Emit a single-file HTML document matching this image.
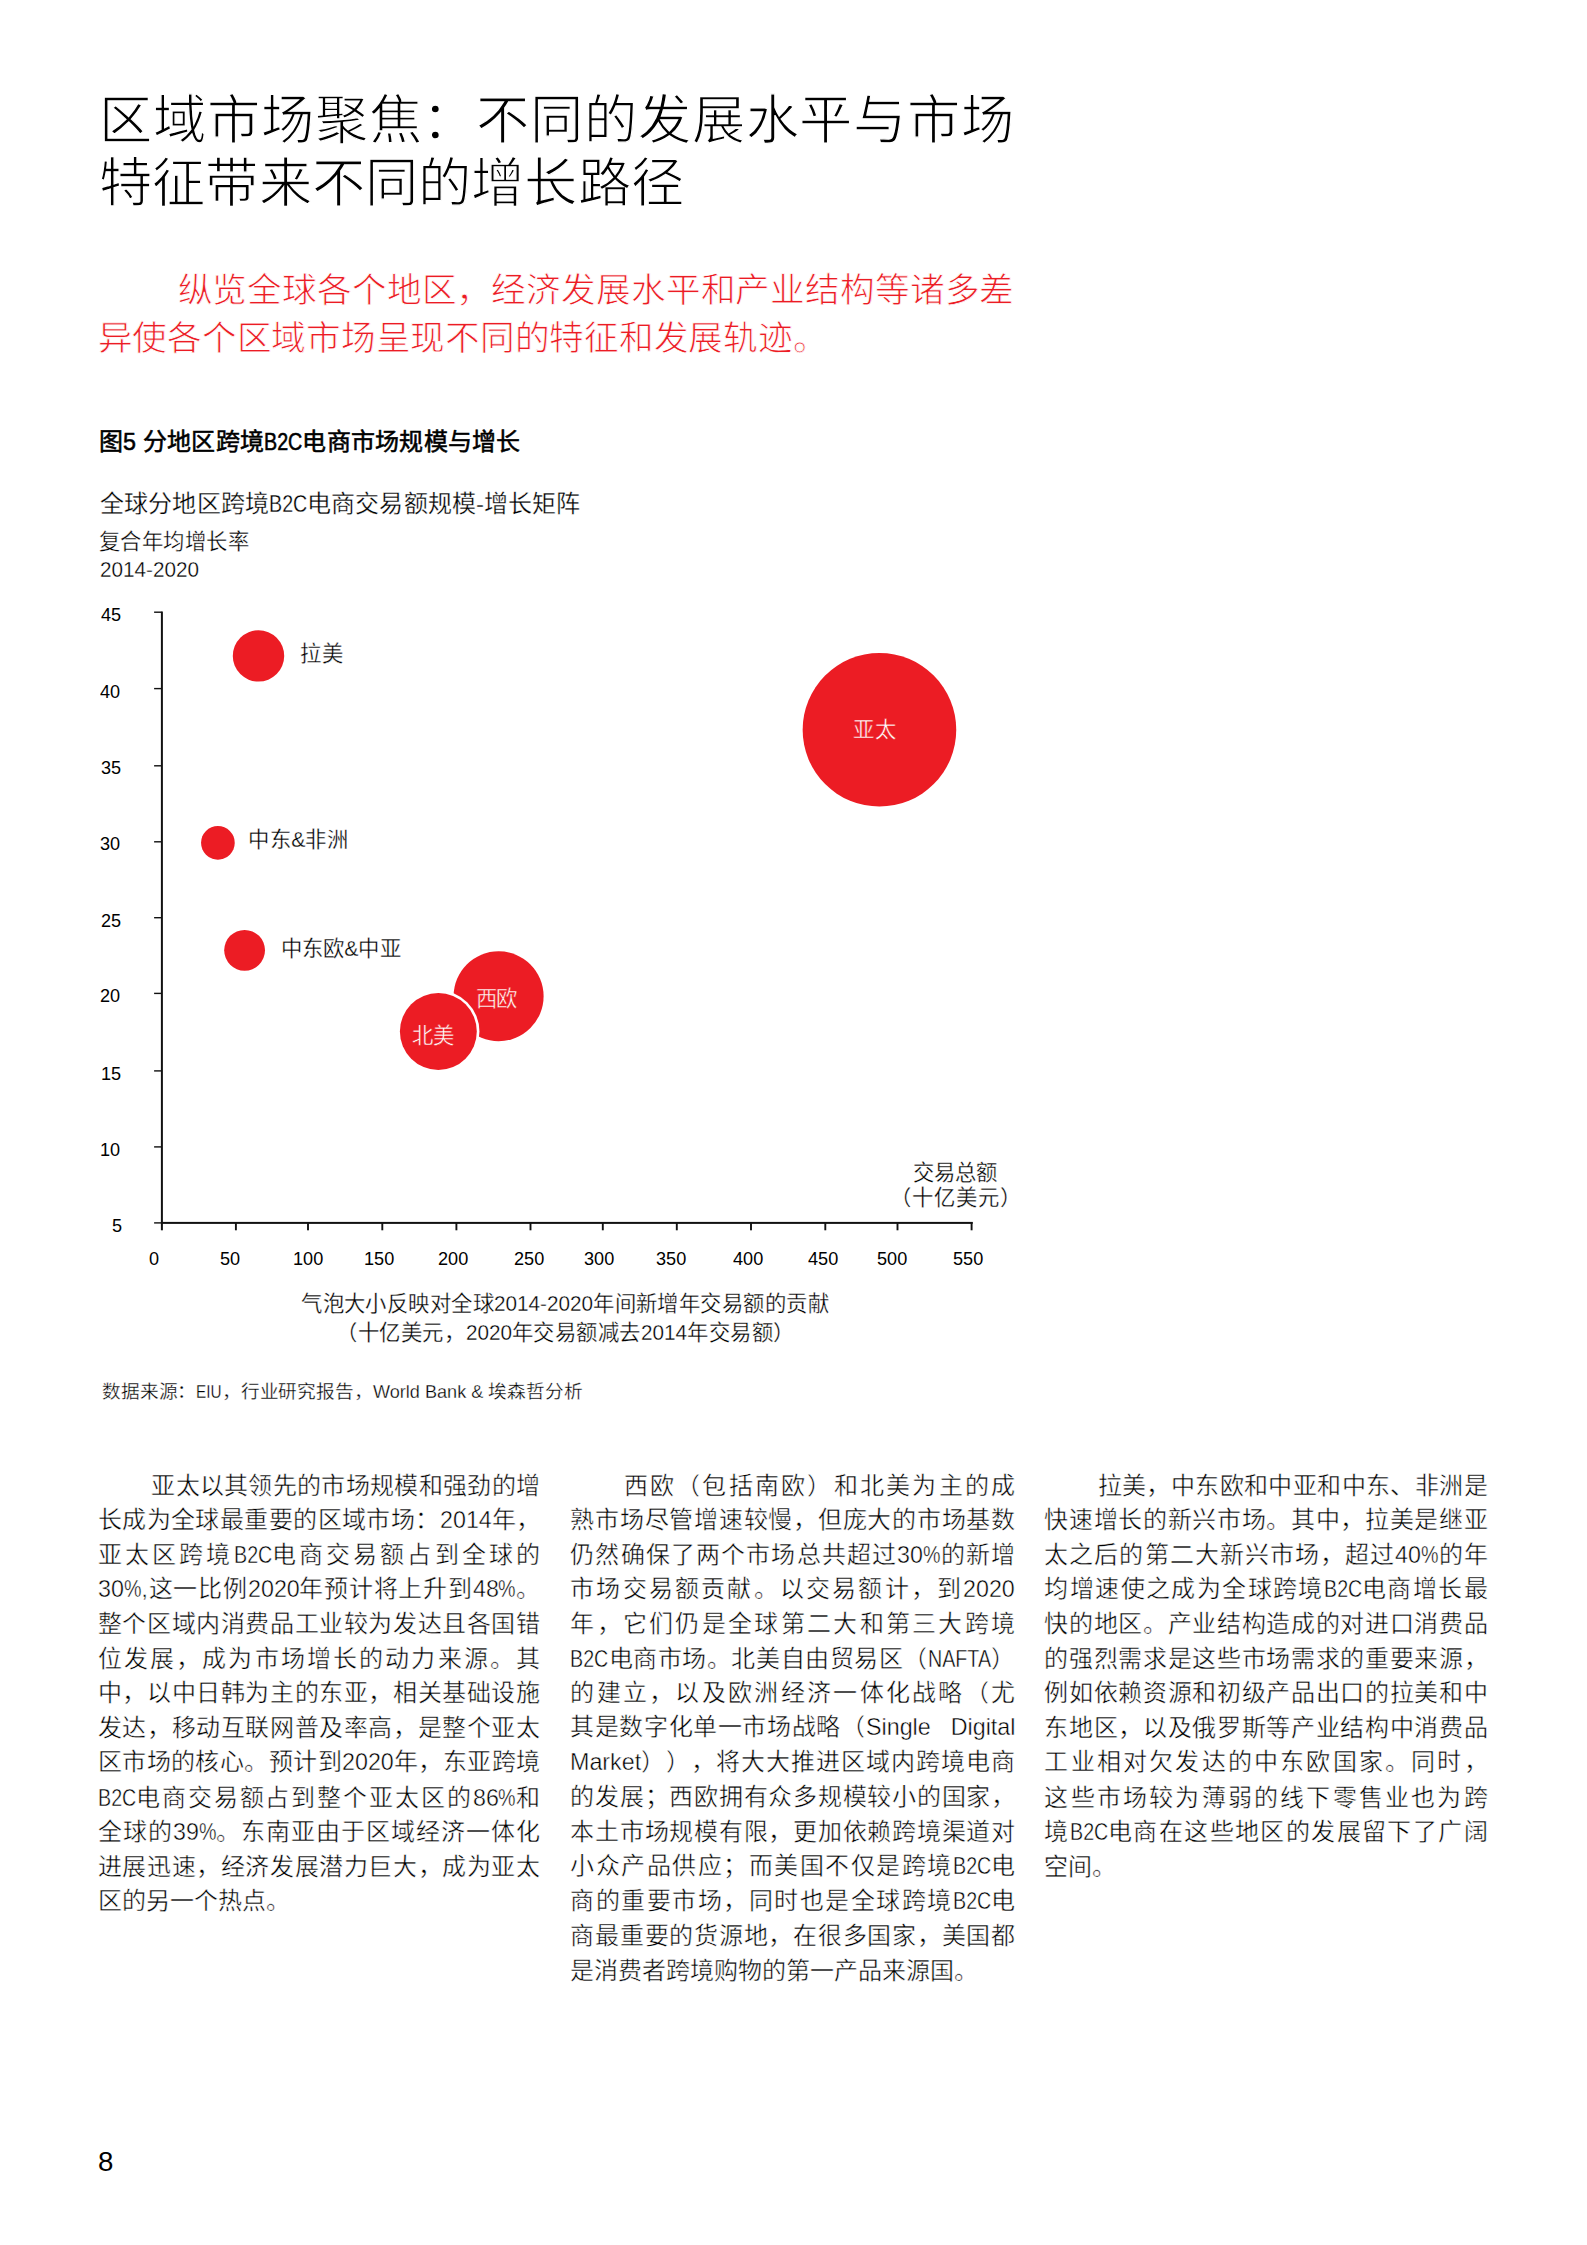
<!DOCTYPE html>
<html lang="zh-CN"><head><meta charset="utf-8"><title>区域市场聚焦</title><style>

html,body{margin:0;padding:0;background:#fff;}
body{width:1587px;height:2245px;position:relative;overflow:hidden;
 font-family:"Liberation Sans",sans-serif;color:#111;text-spacing-trim:space-all;}
.l{position:absolute;white-space:nowrap;margin:0;padding:0;}
.n{display:inline-block;letter-spacing:0;transform:scaleX(0.82);transform-origin:0 50%;}
.t{color:#000;-webkit-text-stroke:1.3px #fff;}
.r{color:#ec1c24;-webkit-text-stroke:0.8px #fff;}
.fb{font-weight:400;color:#000;-webkit-text-stroke:0.55px #000;}
.c{color:#000;-webkit-text-stroke:0.3px #fff;}
.k{color:#000;-webkit-text-stroke:0px #fff;}
.w{color:#fff;-webkit-text-stroke:0.4px #ec1c24;}
.b{color:#000;-webkit-text-stroke:0.45px #fff;}
svg{position:absolute;left:0;top:0;}

</style></head><body>
<svg width="1587" height="2245" viewBox="0 0 1587 2245">
<g fill="#111">
<rect x="160.9" y="611.5" width="2" height="618.8"/>
<rect x="160.9" y="1221.9" width="811.8" height="2"/>
<rect x="154.1" y="611.50" width="7.5" height="1.4"/>
<rect x="154.1" y="687.90" width="7.5" height="1.4"/>
<rect x="154.1" y="765.10" width="7.5" height="1.4"/>
<rect x="154.1" y="841.10" width="7.5" height="1.4"/>
<rect x="154.1" y="917.00" width="7.5" height="1.4"/>
<rect x="154.1" y="992.70" width="7.5" height="1.4"/>
<rect x="154.1" y="1070.20" width="7.5" height="1.4"/>
<rect x="154.1" y="1146.20" width="7.5" height="1.4"/>
<rect x="154.1" y="1222.20" width="7.5" height="1.4"/>
<rect x="234.95" y="1222" width="1.9" height="8.3"/>
<rect x="307.05" y="1222" width="1.9" height="8.3"/>
<rect x="381.35" y="1222" width="1.9" height="8.3"/>
<rect x="455.45" y="1222" width="1.9" height="8.3"/>
<rect x="529.55" y="1222" width="1.9" height="8.3"/>
<rect x="601.85" y="1222" width="1.9" height="8.3"/>
<rect x="675.85" y="1222" width="1.9" height="8.3"/>
<rect x="750.05" y="1222" width="1.9" height="8.3"/>
<rect x="824.35" y="1222" width="1.9" height="8.3"/>
<rect x="896.55" y="1222" width="1.9" height="8.3"/>
<rect x="970.65" y="1222" width="1.9" height="8.3"/>
</g>
<g fill="#ec1c24">
<circle cx="258.5" cy="655.9" r="25.7"/>
<circle cx="879.45" cy="729.8" r="76.8"/>
<circle cx="217.9" cy="842.8" r="16.85"/>
<circle cx="244.6" cy="950.3" r="20.4"/>
<circle cx="498.6" cy="996.2" r="45"/>
<circle cx="438.35" cy="1031.45" r="41.1" fill="#fff"/>
<circle cx="438.35" cy="1031.45" r="38.45"/>
</g></svg>
<div class="l t" id="t1" style="left:99.40px;top:88.93px;font-size:53.33px;line-height:64.0px;letter-spacing:0.850px">区域市场聚焦：不同的发展水平与市场</div>
<div class="l t" id="t2" style="left:99.00px;top:152.43px;font-size:53.33px;line-height:64.0px;letter-spacing:0.180px">特征带来不同的增长路径</div>
<div class="l r" id="r1" style="left:177.60px;top:270.07px;font-size:34.67px;line-height:41.6px;letter-spacing:-0.139px">纵览全球各个地区，经济发展水平和产业结构等诸多差</div>
<div class="l r" id="r2" style="left:97.50px;top:318.47px;font-size:34.67px;line-height:41.6px;letter-spacing:-0.240px">异使各个区域市场呈现不同的特征和发展轨迹。</div>
<div class="l fb" id="f1" style="left:98.80px;top:428.40px;font-size:24px;line-height:28.8px;letter-spacing:0.240px">图<span class="n" id="f1_0" style="transform:scaleX(0.97);margin-right:-0.39px;">5</span> 分地区跨境<span class="n" id="f1_1" style="transform:scaleX(0.82);margin-right:-8.46px;">B2C</span>电商市场规模与增长</div>
<div class="l c" id="f2" style="left:100.10px;top:489.50px;font-size:24px;line-height:28.8px;letter-spacing:0.111px">全球分地区跨境<span class="n" id="f2_0" style="transform:scaleX(0.82);margin-right:-8.46px;">B2C</span>电商交易额规模-增长矩阵</div>
<div class="l c" id="f3" style="left:98.60px;top:530.23px;font-size:21.33px;line-height:25.6px;letter-spacing:0.500px">复合年均增长率</div>
<div class="l c" id="f4" style="left:99.80px;top:558.33px;font-size:21.33px;line-height:25.6px;letter-spacing:0.000px"><span class="n" id="f4_0" style="transform:scaleX(0.97);margin-right:-3.06px;">2014-2020</span></div>
<div class="l k" id="y45" style="left:100.60px;top:604.07px;font-size:18.67px;line-height:22.4px;letter-spacing:0.000px"><span class="n" id="y45_0" style="transform:scaleX(0.97);margin-right:-0.63px;">45</span></div>
<div class="l k" id="y40" style="left:99.60px;top:680.87px;font-size:18.67px;line-height:22.4px;letter-spacing:0.000px"><span class="n" id="y40_0" style="transform:scaleX(0.97);margin-right:-0.63px;">40</span></div>
<div class="l k" id="y35" style="left:100.60px;top:757.27px;font-size:18.67px;line-height:22.4px;letter-spacing:0.000px"><span class="n" id="y35_0" style="transform:scaleX(0.97);margin-right:-0.63px;">35</span></div>
<div class="l k" id="y30" style="left:99.60px;top:833.27px;font-size:18.67px;line-height:22.4px;letter-spacing:0.000px"><span class="n" id="y30_0" style="transform:scaleX(0.97);margin-right:-0.63px;">30</span></div>
<div class="l k" id="y25" style="left:100.60px;top:909.57px;font-size:18.67px;line-height:22.4px;letter-spacing:0.000px"><span class="n" id="y25_0" style="transform:scaleX(0.97);margin-right:-0.63px;">25</span></div>
<div class="l k" id="y20" style="left:99.60px;top:985.47px;font-size:18.67px;line-height:22.4px;letter-spacing:0.000px"><span class="n" id="y20_0" style="transform:scaleX(0.97);margin-right:-0.63px;">20</span></div>
<div class="l k" id="y15" style="left:100.60px;top:1062.97px;font-size:18.67px;line-height:22.4px;letter-spacing:0.000px"><span class="n" id="y15_0" style="transform:scaleX(0.97);margin-right:-0.63px;">15</span></div>
<div class="l k" id="y10" style="left:99.60px;top:1138.97px;font-size:18.67px;line-height:22.4px;letter-spacing:0.000px"><span class="n" id="y10_0" style="transform:scaleX(0.97);margin-right:-0.63px;">10</span></div>
<div class="l k" id="y5" style="left:112.20px;top:1214.97px;font-size:18.67px;line-height:22.4px;letter-spacing:0.000px"><span class="n" id="y5_0" style="transform:scaleX(0.97);margin-right:-0.30px;">5</span></div>
<div class="l k" id="x0" style="left:149.00px;top:1248.27px;font-size:18.67px;line-height:22.4px;letter-spacing:0.000px"><span class="n" id="x0_0" style="transform:scaleX(0.97);margin-right:-0.30px;">0</span></div>
<div class="l k" id="x50" style="left:219.90px;top:1248.27px;font-size:18.67px;line-height:22.4px;letter-spacing:0.000px"><span class="n" id="x50_0" style="transform:scaleX(0.97);margin-right:-0.63px;">50</span></div>
<div class="l k" id="x100" style="left:293.20px;top:1248.27px;font-size:18.67px;line-height:22.4px;letter-spacing:0.000px"><span class="n" id="x100_0" style="transform:scaleX(0.97);margin-right:-0.93px;">100</span></div>
<div class="l k" id="x150" style="left:364.00px;top:1248.27px;font-size:18.67px;line-height:22.4px;letter-spacing:0.000px"><span class="n" id="x150_0" style="transform:scaleX(0.97);margin-right:-0.93px;">150</span></div>
<div class="l k" id="x200" style="left:437.50px;top:1248.27px;font-size:18.67px;line-height:22.4px;letter-spacing:0.000px"><span class="n" id="x200_0" style="transform:scaleX(0.97);margin-right:-0.93px;">200</span></div>
<div class="l k" id="x250" style="left:514.40px;top:1248.27px;font-size:18.67px;line-height:22.4px;letter-spacing:0.000px"><span class="n" id="x250_0" style="transform:scaleX(0.97);margin-right:-0.93px;">250</span></div>
<div class="l k" id="x300" style="left:584.30px;top:1248.27px;font-size:18.67px;line-height:22.4px;letter-spacing:0.000px"><span class="n" id="x300_0" style="transform:scaleX(0.97);margin-right:-0.93px;">300</span></div>
<div class="l k" id="x350" style="left:656.10px;top:1248.27px;font-size:18.67px;line-height:22.4px;letter-spacing:0.000px"><span class="n" id="x350_0" style="transform:scaleX(0.97);margin-right:-0.93px;">350</span></div>
<div class="l k" id="x400" style="left:732.60px;top:1248.27px;font-size:18.67px;line-height:22.4px;letter-spacing:0.000px"><span class="n" id="x400_0" style="transform:scaleX(0.97);margin-right:-0.93px;">400</span></div>
<div class="l k" id="x450" style="left:807.80px;top:1248.27px;font-size:18.67px;line-height:22.4px;letter-spacing:0.000px"><span class="n" id="x450_0" style="transform:scaleX(0.97);margin-right:-0.93px;">450</span></div>
<div class="l k" id="x500" style="left:876.70px;top:1248.27px;font-size:18.67px;line-height:22.4px;letter-spacing:0.000px"><span class="n" id="x500_0" style="transform:scaleX(0.97);margin-right:-0.93px;">500</span></div>
<div class="l k" id="x550" style="left:953.00px;top:1248.27px;font-size:18.67px;line-height:22.4px;letter-spacing:0.000px"><span class="n" id="x550_0" style="transform:scaleX(0.97);margin-right:-0.93px;">550</span></div>
<div class="l c" id="b1" style="left:299.70px;top:642.23px;font-size:21.33px;line-height:25.6px;letter-spacing:1.600px">拉美</div>
<div class="l w" id="b2" style="left:852.90px;top:718.33px;font-size:21.33px;line-height:25.6px;letter-spacing:1.000px">亚太</div>
<div class="l c" id="b3" style="left:248.20px;top:828.43px;font-size:21.33px;line-height:25.6px;letter-spacing:0.467px">中东<span class="n" id="b3_0" style="transform:scaleX(1.0);margin-right:-0.00px;">&amp;</span>非洲</div>
<div class="l c" id="b4" style="left:280.80px;top:937.13px;font-size:21.33px;line-height:25.6px;letter-spacing:0.150px">中东欧<span class="n" id="b4_0" style="transform:scaleX(1.0);margin-right:-0.00px;">&amp;</span>中亚</div>
<div class="l w" id="b5" style="left:475.80px;top:987.03px;font-size:21.33px;line-height:25.6px;letter-spacing:-1.200px">西欧</div>
<div class="l w" id="b6" style="left:412.00px;top:1024.23px;font-size:21.33px;line-height:25.6px;letter-spacing:-0.400px">北美</div>
<div class="l c" id="a1" style="left:913.40px;top:1161.23px;font-size:21.33px;line-height:25.6px;letter-spacing:0.000px">交易总额</div>
<div class="l c" id="a2" style="left:889.60px;top:1186.43px;font-size:21.33px;line-height:25.6px;letter-spacing:1.160px">（十亿美元）</div>
<div class="l c" id="n1" style="left:301.10px;top:1291.73px;font-size:21.33px;line-height:25.6px;letter-spacing:0.453px">气泡大小反映对全球<span class="n" id="n1_0" style="transform:scaleX(0.97);margin-right:-3.06px;">2014-2020</span>年间新增年交易额的贡献</div>
<div class="l c" id="n2" style="left:336.30px;top:1320.93px;font-size:21.33px;line-height:25.6px;letter-spacing:0.550px">（十亿美元，<span class="n" id="n2_0" style="transform:scaleX(0.97);margin-right:-1.41px;">2020</span>年交易额减去<span class="n" id="n2_1" style="transform:scaleX(0.97);margin-right:-1.41px;">2014</span>年交易额）</div>
<div class="l c" id="s1" style="left:101.90px;top:1381.37px;font-size:18.67px;line-height:22.4px;letter-spacing:-0.122px">数据来源：<span class="n" id="s1_0" style="transform:scaleX(0.82);margin-right:-5.58px;">EIU</span>，行业研究报告，<span class="n" id="s1_1" style="transform:scaleX(0.97);margin-right:-3.42px;">World Bank &amp;</span> 埃森哲分析</div>
<div class="l k" id="pg" style="left:98.40px;top:2143.80px;font-size:28.5px;line-height:34.2px;letter-spacing:0.000px"><span class="n" id="pg_0" style="transform:scaleX(0.97);margin-right:-0.48px;">8</span></div>
<div class="l b" id="c0_0" style="left:151.20px;top:1471.80px;font-size:24px;line-height:28.8px;letter-spacing:0.319px">亚太以其领先的市场规模和强劲的增</div>
<div class="l b" id="c0_1" style="left:97.80px;top:1506.35px;font-size:24px;line-height:28.8px;letter-spacing:0.425px">长成为全球最重要的区域市场：<span class="n" id="c0_1_0" style="transform:scaleX(0.97);margin-right:-1.59px;">2014</span>年，</div>
<div class="l b" id="c0_2" style="left:97.80px;top:1540.90px;font-size:24px;line-height:28.8px;letter-spacing:3.139px">亚太区跨境<span class="n" id="c0_2_0" style="transform:scaleX(0.82);margin-right:-8.46px;">B2C</span>电商交易额占到全球的</div>
<div class="l b" id="c0_3" style="left:97.80px;top:1575.45px;font-size:24px;line-height:28.8px;letter-spacing:0.727px"><span class="n" id="c0_3_0" style="transform:scaleX(0.97);margin-right:-0.81px;">30</span><span class="n" id="c0_3_1" style="transform:scaleX(0.82);margin-right:-3.78px;">%</span>,这一比例<span class="n" id="c0_3_2" style="transform:scaleX(0.97);margin-right:-1.59px;">2020</span>年预计将上升到<span class="n" id="c0_3_3" style="transform:scaleX(0.97);margin-right:-0.81px;">48</span><span class="n" id="c0_3_4" style="transform:scaleX(0.82);margin-right:-3.78px;">%</span>。</div>
<div class="l b" id="c0_4" style="left:97.80px;top:1610.00px;font-size:24px;line-height:28.8px;letter-spacing:0.599px">整个区域内消费品工业较为发达且各国错</div>
<div class="l b" id="c0_5" style="left:97.80px;top:1644.55px;font-size:24px;line-height:28.8px;letter-spacing:2.136px">位发展，成为市场增长的动力来源。其</div>
<div class="l b" id="c0_6" style="left:97.80px;top:1679.10px;font-size:24px;line-height:28.8px;letter-spacing:0.599px">中，以中日韩为主的东亚，相关基础设施</div>
<div class="l b" id="c0_7" style="left:97.80px;top:1713.65px;font-size:24px;line-height:28.8px;letter-spacing:0.599px">发达，移动互联网普及率高，是整个亚太</div>
<div class="l b" id="c0_8" style="left:97.80px;top:1748.20px;font-size:24px;line-height:28.8px;letter-spacing:0.425px">区市场的核心。预计到<span class="n" id="c0_8_0" style="transform:scaleX(0.97);margin-right:-1.59px;">2020</span>年，东亚跨境</div>
<div class="l b" id="c0_9" style="left:97.80px;top:1783.75px;font-size:24px;line-height:28.8px;letter-spacing:1.882px"><span class="n" id="c0_9_0" style="transform:scaleX(0.82);margin-right:-8.46px;">B2C</span>电商交易额占到整个亚太区的<span class="n" id="c0_9_1" style="transform:scaleX(0.97);margin-right:-0.81px;">86</span><span class="n" id="c0_9_2" style="transform:scaleX(0.82);margin-right:-3.78px;">%</span>和</div>
<div class="l b" id="c0_10" style="left:97.80px;top:1818.30px;font-size:24px;line-height:28.8px;letter-spacing:0.979px">全球的<span class="n" id="c0_10_0" style="transform:scaleX(0.97);margin-right:-0.81px;">39</span><span class="n" id="c0_10_1" style="transform:scaleX(0.82);margin-right:-3.78px;">%</span>。东南亚由于区域经济一体化</div>
<div class="l b" id="c0_11" style="left:97.80px;top:1852.85px;font-size:24px;line-height:28.8px;letter-spacing:0.599px">进展迅速，经济发展潜力巨大，成为亚太</div>
<div class="l b" id="c0_12" style="left:97.80px;top:1887.40px;font-size:24px;line-height:28.8px;letter-spacing:0.000px">区的另一个热点。</div>
<div class="l b" id="c1_0" style="left:623.70px;top:1471.80px;font-size:24px;line-height:28.8px;letter-spacing:2.235px">西欧（包括南欧）和北美为主的成</div>
<div class="l b" id="c1_1" style="left:570.30px;top:1506.35px;font-size:24px;line-height:28.8px;letter-spacing:0.747px">熟市场尽管增速较慢，但庞大的市场基数</div>
<div class="l b" id="c1_2" style="left:570.30px;top:1540.90px;font-size:24px;line-height:28.8px;letter-spacing:1.146px">仍然确保了两个市场总共超过<span class="n" id="c1_2_0" style="transform:scaleX(0.97);margin-right:-0.81px;">30</span><span class="n" id="c1_2_1" style="transform:scaleX(0.82);margin-right:-3.78px;">%</span>的新增</div>
<div class="l b" id="c1_3" style="left:570.30px;top:1575.45px;font-size:24px;line-height:28.8px;letter-spacing:2.191px">市场交易额贡献。以交易额计，到<span class="n" id="c1_3_0" style="transform:scaleX(0.97);margin-right:-1.59px;">2020</span></div>
<div class="l b" id="c1_4" style="left:570.30px;top:1610.00px;font-size:24px;line-height:28.8px;letter-spacing:2.294px">年，它们仍是全球第二大和第三大跨境</div>
<div class="l b" id="c1_5" style="left:570.30px;top:1644.55px;font-size:24px;line-height:28.8px;letter-spacing:0.570px"><span class="n" id="c1_5_0" style="transform:scaleX(0.82);margin-right:-8.46px;">B2C</span>电商市场。北美自由贸易区（<span class="n" id="c1_5_1" style="transform:scaleX(0.82);margin-right:-13.86px;">NAFTA</span>）</div>
<div class="l b" id="c1_6" style="left:570.30px;top:1679.10px;font-size:24px;line-height:28.8px;letter-spacing:2.294px">的建立，以及欧洲经济一体化战略（尤</div>
<div class="l b" id="c1_7" style="left:570.30px;top:1712.65px;font-size:24px;line-height:28.8px;letter-spacing:0.600px">其是数字化单一市场战略（<span class="n" id="c1_7_0" style="transform:scaleX(0.97);margin-right:-4.62px;word-spacing:14.01px;">Single Digital</span></div>
<div class="l b" id="c1_8" style="left:570.30px;top:1748.20px;font-size:24px;line-height:28.8px;letter-spacing:0.965px"><span class="n" id="c1_8_0" style="transform:scaleX(0.97);margin-right:-2.19px;">Market</span>）），将大大推进区域内跨境电商</div>
<div class="l b" id="c1_9" style="left:570.30px;top:1782.75px;font-size:24px;line-height:28.8px;letter-spacing:0.747px">的发展；西欧拥有众多规模较小的国家，</div>
<div class="l b" id="c1_10" style="left:570.30px;top:1818.30px;font-size:24px;line-height:28.8px;letter-spacing:0.747px">本土市场规模有限，更加依赖跨境渠道对</div>
<div class="l b" id="c1_11" style="left:570.30px;top:1851.85px;font-size:24px;line-height:28.8px;letter-spacing:1.497px">小众产品供应；而美国不仅是跨境<span class="n" id="c1_11_0" style="transform:scaleX(0.82);margin-right:-8.46px;">B2C</span>电</div>
<div class="l b" id="c1_12" style="left:570.30px;top:1887.40px;font-size:24px;line-height:28.8px;letter-spacing:1.497px">商的重要市场，同时也是全球跨境<span class="n" id="c1_12_0" style="transform:scaleX(0.82);margin-right:-8.46px;">B2C</span>电</div>
<div class="l b" id="c1_13" style="left:570.30px;top:1921.95px;font-size:24px;line-height:28.8px;letter-spacing:0.747px">商最重要的货源地，在很多国家，美国都</div>
<div class="l b" id="c1_14" style="left:570.30px;top:1956.50px;font-size:24px;line-height:28.8px;letter-spacing:0.000px">是消费者跨境购物的第一产品来源国。</div>
<div class="l b" id="c2_0" style="left:1097.70px;top:1471.80px;font-size:24px;line-height:28.8px;letter-spacing:0.400px">拉美，中东欧和中亚和中东、非洲是</div>
<div class="l b" id="c2_1" style="left:1044.30px;top:1506.35px;font-size:24px;line-height:28.8px;letter-spacing:0.670px">快速增长的新兴市场。其中，拉美是继亚</div>
<div class="l b" id="c2_2" style="left:1044.30px;top:1540.90px;font-size:24px;line-height:28.8px;letter-spacing:1.061px">太之后的第二大新兴市场，超过<span class="n" id="c2_2_0" style="transform:scaleX(0.97);margin-right:-0.81px;">40</span><span class="n" id="c2_2_1" style="transform:scaleX(0.82);margin-right:-3.78px;">%</span>的年</div>
<div class="l b" id="c2_3" style="left:1044.30px;top:1575.45px;font-size:24px;line-height:28.8px;letter-spacing:1.410px">均增速使之成为全球跨境<span class="n" id="c2_3_0" style="transform:scaleX(0.82);margin-right:-8.46px;">B2C</span>电商增长最</div>
<div class="l b" id="c2_4" style="left:1044.30px;top:1610.00px;font-size:24px;line-height:28.8px;letter-spacing:0.670px">快的地区。产业结构造成的对进口消费品</div>
<div class="l b" id="c2_5" style="left:1044.30px;top:1644.55px;font-size:24px;line-height:28.8px;letter-spacing:0.670px">的强烈需求是这些市场需求的重要来源，</div>
<div class="l b" id="c2_6" style="left:1044.30px;top:1679.10px;font-size:24px;line-height:28.8px;letter-spacing:0.670px">例如依赖资源和初级产品出口的拉美和中</div>
<div class="l b" id="c2_7" style="left:1044.30px;top:1713.65px;font-size:24px;line-height:28.8px;letter-spacing:0.670px">东地区，以及俄罗斯等产业结构中消费品</div>
<div class="l b" id="c2_8" style="left:1044.30px;top:1748.20px;font-size:24px;line-height:28.8px;letter-spacing:2.212px">工业相对欠发达的中东欧国家。同时，</div>
<div class="l b" id="c2_9" style="left:1044.30px;top:1783.75px;font-size:24px;line-height:28.8px;letter-spacing:2.212px">这些市场较为薄弱的线下零售业也为跨</div>
<div class="l b" id="c2_10" style="left:1044.30px;top:1818.30px;font-size:24px;line-height:28.8px;letter-spacing:1.410px">境<span class="n" id="c2_10_0" style="transform:scaleX(0.82);margin-right:-8.46px;">B2C</span>电商在这些地区的发展留下了广阔</div>
<div class="l b" id="c2_11" style="left:1044.30px;top:1852.85px;font-size:24px;line-height:28.8px;letter-spacing:0.000px">空间。</div>
</body></html>
